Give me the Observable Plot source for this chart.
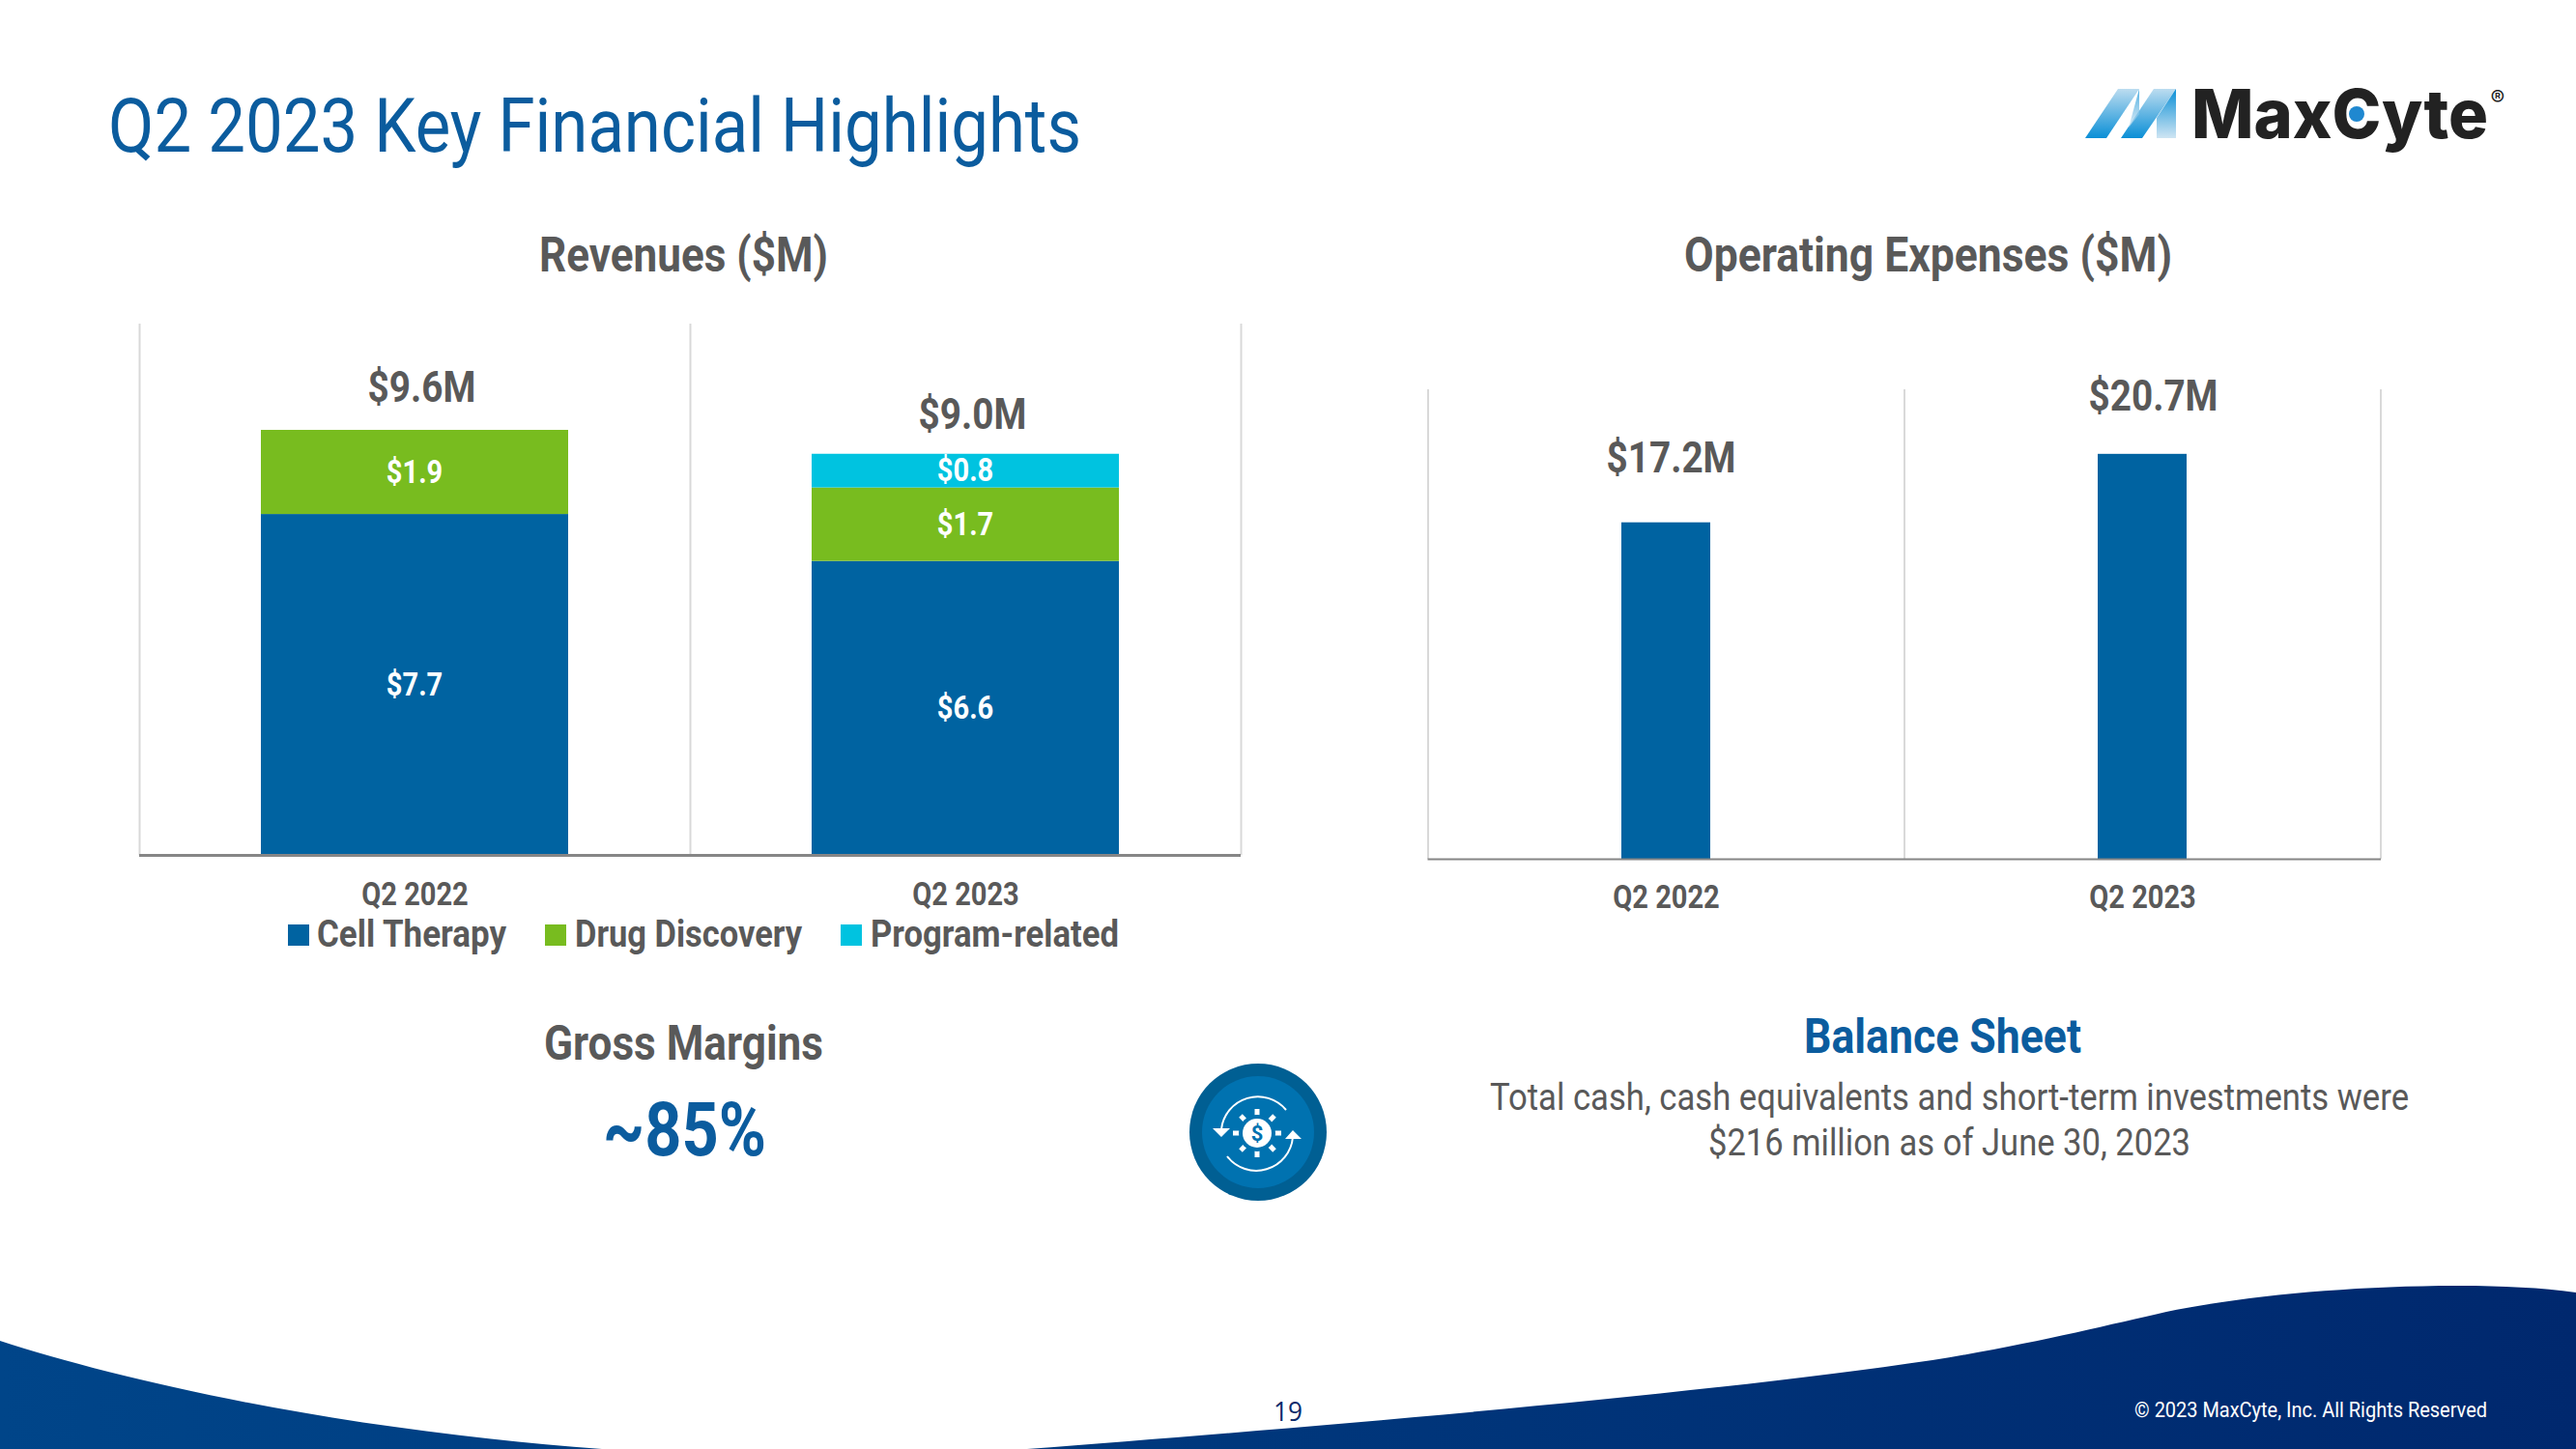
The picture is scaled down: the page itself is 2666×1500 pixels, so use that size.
<!DOCTYPE html>
<html lang="en">
<head>
<meta charset="utf-8">
<title>Q2 2023 Key Financial Highlights</title>
<script src="https://cdn.jsdelivr.net/npm/d3@7"></script>
<script src="https://cdn.jsdelivr.net/npm/@observablehq/plot@0.6"></script>
<style>
html,body{margin:0;padding:0;background:#fff}
#page{position:relative;width:2666px;height:1500px;overflow:hidden;font-family:Roboto,sans-serif;color:#595959}
.t{position:absolute;white-space:pre;line-height:1;transform-origin:0 0}
.chart{position:absolute}
.chart svg{display:block;overflow:visible;background:transparent}
.sw{position:absolute}
#deco{position:absolute;left:0;top:0}
</style>
</head>
<body>
<div id="page">
<svg id="deco" width="2666" height="1500" viewBox="0 0 2666 1500">
  <defs>
    <linearGradient id="wave" gradientUnits="userSpaceOnUse" x1="0" y1="0" x2="2666" y2="0">
      <stop offset="0" stop-color="#004589"/><stop offset="1" stop-color="#00286e"/>
    </linearGradient>
    <linearGradient id="mUp" x1="0" y1="1" x2="0" y2="0">
      <stop offset="0" stop-color="#0a8fd6"/><stop offset="1" stop-color="#bcdcf0"/>
    </linearGradient>
    <linearGradient id="mDown" x1="0" y1="0" x2="0" y2="1">
      <stop offset="0" stop-color="#0a8fd6"/><stop offset="1" stop-color="#cfe5f3"/>
    </linearGradient>
  </defs>
  <path fill="url(#wave)" d="M0,1388 C130,1430 350,1480 623,1500 L0,1500 Z"/>
  <path fill="url(#wave)" d="M1063,1500 C1350,1478 1750,1445 2000,1408 C2100,1392 2180,1372 2242,1358 C2320,1342 2430,1331 2546,1331 C2590,1331 2630,1333 2666,1338 L2666,1500 Z"/>
  <g>
    <path fill="url(#mUp)" d="M2158,143 L2192,92 L2214,92 L2180,143 Z"/>
    <path fill="url(#mUp)" d="M2195,143 L2229,92 L2252,92 L2217,143 Z"/>
    <path fill="url(#mDown)" d="M2252,92 L2252,143 L2232,143 L2232,122 Z"/>
    <path fill="url(#mDown)" d="M2214,92 L2214,118 L2203,132 Z" opacity="0.7"/>
  </g>
  <g>
    <circle cx="1302" cy="1172" r="71" fill="#005f93"/>
    <circle cx="1302" cy="1172" r="58" fill="#0072b0"/>
    <g fill="none" stroke="#fff" stroke-width="2">
      <path d="M1331,1149 A38,38 0 0 0 1264,1169"/>
      <path d="M1270,1197 A38,38 0 0 0 1338,1177"/>
    </g>
    <path fill="#fff" d="M1255,1168 L1273,1168 L1264,1177 Z M1330,1179 L1347,1179 L1338,1170 Z"/>
    <g stroke="#fff" stroke-width="5">
      <path d="M1301,1148 V1198 M1276,1173 H1326 M1284,1155 L1319,1191 M1319,1155 L1284,1191"/>
    </g>
    <circle cx="1301" cy="1173" r="19" fill="#0072b0"/>
    <circle cx="1301" cy="1173" r="15" fill="#fff"/>
    <text x="1301" y="1181" text-anchor="middle" font-family="Roboto" font-weight="700" font-size="22" fill="#0072b0">$</text>
  </g>
  <text x="2268" y="143" font-family="Inter" font-weight="800" font-size="70" fill="#222" textLength="307" lengthAdjust="spacingAndGlyphs">MaxCyte</text>
  <circle cx="2439" cy="118" r="8" fill="#1f88d0"/>
  <text x="2585" y="109" text-anchor="middle" font-family="Inter" font-size="22" fill="#222">®</text>
</svg>

<div class="chart" id="rev"></div>
<div class="chart" id="opex"></div>
</div>

<script>
const quarters = ["Q2 2022", "Q2 2023"];
const revenueSeries = ["Cell Therapy", "Drug Discovery", "Program-related"];
const cellTherapy = [7.7, 6.64];
const drugDiscovery = [1.9, 1.66];
const programRelated = [null, 0.76];
const revenueTotals = [9.6, 9.06];
const revenueTotalLabels = ["$9.6M", "$9.0M"];
const opexValues = [17.2, 20.7];
const opexLabels = ["$17.2M", "$20.7M"];

const seriesColors = ["#0063a1", "#78bc1f", "#00c3e0"];
const GREY = "#595959", BLUE = "#0b5c9e";
const CONDENSE = 0.88;
const FONT = {fontFamily: "Roboto, sans-serif", background: "transparent"};

const revRows = [];
revenueSeries.forEach((s, i) => {
  const vals = [cellTherapy, drugDiscovery, programRelated][i];
  quarters.forEach((q, j) => { if (vals[j] != null) revRows.push({quarter: q, series: s, value: vals[j]}); });
});
const revTotalRows = quarters.map((q, i) => ({quarter: q, value: revenueTotals[i], label: revenueTotalLabels[i]}));
const opexRows = quarters.map((q, i) => ({quarter: q, value: opexValues[i], label: opexLabels[i]}));

// ---- revenue chart ----
const revStep = 570;
const revPlot = Plot.plot({
  style: FONT,
  width: 1240, height: 640,
  marginLeft: 44, marginRight: 56, marginTop: 15, marginBottom: 75,
  x: {domain: quarters, paddingInner: 0.442, paddingOuter: 0.221, align: 0.5, axis: null},
  y: {domain: [0, 12], axis: null},
  color: {domain: revenueSeries, range: seriesColors},
  marks: [
    Plot.ruleX(quarters, {x: d => d, dx: -revStep / 2, stroke: "#d9d9d9", strokeWidth: 2}),
    Plot.ruleX(quarters.slice(1), {x: d => d, dx: revStep / 2, stroke: "#d9d9d9", strokeWidth: 2}),
    Plot.barY(revRows, Plot.stackY({x: "quarter", y: "value", z: "series", fill: "series", order: revenueSeries})),
    Plot.text(revRows, Plot.stackY({x: "quarter", y: "value", z: "series", order: revenueSeries,
      text: d => "$" + d.value.toFixed(1), fill: "#fff", fontSize: 33, fontWeight: 700, dx: -0.5})),
    Plot.text(revTotalRows.slice(0, 1), {x: "quarter", y: "value", text: "label", dx: 7, dy: -44, fill: GREY, fontSize: 44, fontWeight: 700}),
    Plot.text(revTotalRows.slice(1), {x: "quarter", y: "value", text: "label", dx: 7, dy: -40, fill: GREY, fontSize: 44, fontWeight: 700}),
    Plot.ruleY([0], {stroke: "#868686", strokeWidth: 3}),
    Plot.axisX({anchor: "bottom", label: null, tickSize: 0, tickPadding: 28, fontSize: 33, fontWeight: 700, fill: GREY})
  ]
});
const revBox = document.getElementById("rev");
revBox.style.cssText = "left:100px;top:320px";
revBox.append(revPlot);

// ---- operating expenses chart ----
const opexStep = 493;
const opexPlot = Plot.plot({
  style: FONT,
  width: 1040, height: 580,
  marginLeft: 47.5, marginRight: 6, marginTop: 13, marginBottom: 81,
  x: {domain: quarters, paddingInner: 0.813, paddingOuter: 0.4065, align: 0.5, axis: null},
  y: {domain: [0, 24], axis: null},
  marks: [
    Plot.ruleX(quarters, {x: d => d, dx: -opexStep / 2, stroke: "#d9d9d9", strokeWidth: 2}),
    Plot.ruleX(quarters.slice(1), {x: d => d, dx: opexStep / 2, stroke: "#d9d9d9", strokeWidth: 2}),
    Plot.barY(opexRows, {x: "quarter", y: "value", fill: seriesColors[0]}),
    Plot.text(opexRows.slice(0, 1), {x: "quarter", y: "value", text: "label", dx: 5, dy: -66, fill: GREY, fontSize: 44, fontWeight: 700}),
    Plot.text(opexRows.slice(1), {x: "quarter", y: "value", text: "label", dx: 11, dy: -59, fill: GREY, fontSize: 44, fontWeight: 700}),
    Plot.ruleY([0], {stroke: "#868686", strokeWidth: 2}),
    Plot.axisX({anchor: "bottom", label: null, tickSize: 0, tickPadding: 27, fontSize: 33, fontWeight: 700, fill: GREY})
  ]
});
const opexBox = document.getElementById("opex");
opexBox.style.cssText = "left:1430px;top:390px";
opexBox.append(opexPlot);

// condense Plot's text to match the narrow typeface
document.querySelectorAll(".chart svg text").forEach(t => {
  const w = t.getComputedTextLength();
  t.setAttribute("textLength", (w * CONDENSE).toFixed(1));
  t.setAttribute("lengthAdjust", "spacingAndGlyphs");
});

// ---- slide text ----
const page = document.getElementById("page");
function put(text, x0, x1, baseline, size, weight, color, family) {
  const el = document.createElement("div");
  el.className = "t";
  el.textContent = text;
  el.style.cssText = `left:${x0}px;top:0;font-size:${size}px;font-weight:${weight};color:${color};font-family:${family || "Roboto"},sans-serif`;
  page.append(el);
  const w = el.getBoundingClientRect().width;
  const asc = baselineOffset(el);
  el.style.top = (baseline - asc) + "px";
  el.style.transform = `scaleX(${(x1 - x0) / w})`;
}
function baselineOffset(el) {
  const probe = document.createElement("span");
  probe.style.cssText = "display:inline-block;width:0;height:0;vertical-align:baseline";
  el.append(probe);
  const off = probe.getBoundingClientRect().top - el.getBoundingClientRect().top;
  probe.remove();
  return off;
}
put("Q2 2023 Key Financial Highlights", 112, 1119, 157, 78, 400, BLUE);
put("Revenues ($M)", 558, 857, 281, 50, 700, GREY);
put("Operating Expenses ($M)", 1743, 2248, 281, 50, 700, GREY);
put("Gross Margins", 563, 852, 1097, 50, 700, GREY);
put("~85%", 624, 793, 1196, 78, 700, BLUE);
put("Balance Sheet", 1867, 2154, 1090, 50, 700, BLUE);
put("Total cash, cash equivalents and short-term investments were", 1542, 2493, 1149, 39, 400, GREY);
put("$216 million as of June 30, 2023", 1768, 2267, 1196, 39, 400, GREY);
put("19", 1318, 1348, 1471, 28, 400, "#0b2a6b", "Open Sans");
put("© 2023 MaxCyte, Inc. All Rights Reserved", 2209, 2574, 1467, 22, 400, "#ffffff");

// ---- legend ----
const legendSpots = [[298, 328, 524], [564, 595, 830], [870, 901, 1158]];
revenueSeries.forEach((s, i) => {
  const [sx, x0, x1] = legendSpots[i];
  const sw = document.createElement("div");
  sw.className = "sw";
  sw.style.cssText = `left:${sx}px;top:957px;width:22px;height:22px;background:${seriesColors[i]}`;
  page.append(sw);
  put(s, x0, x1, 980, 39, 700, GREY);
});
</script>
</body>
</html>
